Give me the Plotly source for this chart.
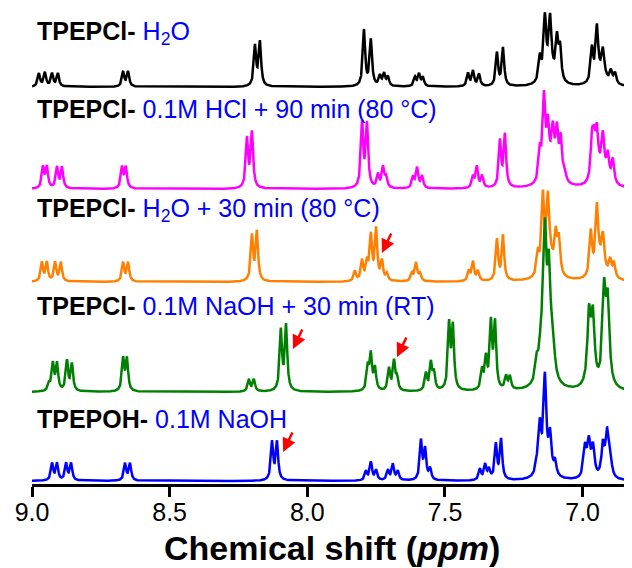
import numpy as np
import plotly.graph_objects as go

# ---------------- data: peak tables ----------------
# ppm position, intensity (apparent height), half width (ppm)
black_ppm = [8.975, 8.953, 8.927, 8.906, 8.669, 8.651, 8.190, 8.172, 7.794, 7.769,
             7.736, 7.721, 7.707, 7.609, 7.594, 7.580, 7.416, 7.398, 7.376, 7.311, 7.289,
             7.155, 7.137, 7.118, 7.093, 7.082, 7.118,
             6.966, 6.948, 6.926, 6.897, 6.882, 6.930]
black_int = [13, 14, 13, 13, 15, 15, 40, 44, 56, 46,
             10, 12, 9, 9, 12, 9, 13, 15, 12, 33, 38,
             24, 60, 52, 40, 32, 14,
             34, 52, 24, 12, 11, 12]
black_hw = [0.005] * 21 + [0.0055] * 5 + [0.02] + [0.0055] * 5 + [0.02]

mag_ppm = [8.960, 8.946, 8.909, 8.891, 8.673, 8.659, 8.219, 8.201, 7.801, 7.783,
           7.743, 7.725, 7.714, 7.616, 7.601, 7.583, 7.398, 7.384, 7.365, 7.300, 7.282,
           7.155, 7.140, 7.126, 7.108, 7.093, 7.079, 7.064, 7.110,
           6.966, 6.958, 6.948, 6.926, 6.908, 6.890, 6.930]
mag_int = [21, 21, 21, 21, 21, 21, 49, 55, 64, 63,
           13, 20, 11, 11, 20, 12, 11, 21, 12, 46, 52,
           30, 80, 45, 35, 42, 40, 8, 20,
           40, 34, 42, 34, 24, 24, 18]
mag_hw = [0.005] * 21 + [0.0055] * 7 + [0.022] + [0.0055] * 6 + [0.02]

ora_ppm = [8.964, 8.946, 8.916, 8.895, 8.669, 8.651, 8.201, 8.183,
           7.827, 7.801, 7.783, 7.769, 7.750, 7.729, 7.711,
           7.620, 7.605, 7.591, 7.413, 7.398, 7.380, 7.311, 7.289,
           7.162, 7.144, 7.126, 7.097, 7.086, 7.120,
           6.970, 6.948, 6.926, 6.900, 6.886, 6.935]
ora_int = [19, 19, 19, 19, 19, 19, 45, 49,
           10, 20, 17, 44, 51, 19, 7,
           8, 18, 8, 10, 19, 10, 41, 45,
           22, 75, 62, 36, 34, 22,
           44, 62, 30, 16, 15, 18]
ora_hw = [0.005] * 23 + [0.0055] * 5 + [0.02] + [0.0055] * 5 + [0.02]

grn_ppm = [8.938, 8.924, 8.909, 8.873, 8.855, 8.669, 8.655, 8.212, 8.194, 8.096, 8.077,
           7.780, 7.769, 7.754, 7.703, 7.685, 7.674, 7.569, 7.551, 7.540,
           7.485, 7.471, 7.365, 7.351, 7.333, 7.318, 7.278, 7.264,
           7.166, 7.151, 7.137, 7.122, 7.108, 7.130,
           6.977, 6.962, 6.922, 6.908, 6.970, 6.915]
grn_int = [7, 27, 27, 30, 27, 32, 32, 12, 12, 60, 65,
           23, 35, 22, 22, 29, 12, 17, 27, 17,
           65, 62, 19, 30, 65, 65, 13, 13,
           20, 30, 125, 88, 35, 30,
           60, 58, 80, 68, 20, 24]
grn_hw = [0.005] * 28 + [0.0065] * 5 + [0.02] + [0.0065] * 4 + [0.012, 0.012]

blu_ppm = [8.927, 8.909, 8.876, 8.858, 8.662, 8.644, 8.128, 8.110,
           7.787, 7.769, 7.750, 7.707, 7.689, 7.671, 7.587, 7.572, 7.554,
           7.373, 7.354, 7.340, 7.315, 7.296,
           7.166, 7.155, 7.137, 7.118, 7.100, 7.135,
           6.991, 6.977, 6.962, 6.926, 6.911, 6.900]
blu_int = [17, 17, 17, 17, 17, 17, 38, 38,
           9, 18, 10, 10, 16, 9, 39, 30, 11,
           11, 15, 10, 35, 40,
           10, 45, 86, 35, 14, 16,
           30, 34, 30, 32, 42, 20]
blu_hw = [0.005] * 22 + [0.0055] * 5 + [0.02] + [0.0065] * 6

labels_bold = ["TPEPCl-", "TPEPCl-", "TPEPCl-", "TPEPCl-", "TPEPOH-"]
labels_cond = ["H<sub>2</sub>O", "0.1M HCl + 90 min (80 °C)", "H<sub>2</sub>O + 30 min (80 °C)",
               "0.1M NaOH + 30 min (RT)", "0.1M NaOH"]
tick_vals = [9.0, 8.5, 8.0, 7.5, 7.0]
tick_text = ["9.0", "8.5", "8.0", "7.5", "7.0"]
x_title = "<b>Chemical shift (<i>ppm</i>)</b>"
# arrows pointing at new peaks (ppm)
arrow_ppm = [7.729, 8.052, 7.674, 8.088]

# ---------------- layout constants ----------------
# (the html page adds an 8 px body margin, so the figure is 624 x 560)
offsets = [397, 295, 202, 92, 3]          # vertical stacking offsets
label_y = [451, 375, 274, 178, 65]
arrow_y = [231, 135, 127, 32]
colors = ["#000000", "#FF00FF", "#FF8000", "#008000", "#0000FF"]

x = np.arange(6.80, 9.0001, 0.0004)


def spectrum(ppm, inten, hw):
    y = np.zeros_like(x)
    for p, h, w in zip(ppm, inten, hw):
        y += h / (1.0 + ((x - p) / w) ** 2)
    return y


tables = [(black_ppm, black_int, black_hw), (mag_ppm, mag_int, mag_hw),
          (ora_ppm, ora_int, ora_hw), (grn_ppm, grn_int, grn_hw),
          (blu_ppm, blu_int, blu_hw)]

fig = go.Figure()
for (pp, ii, ww), off, col in zip(tables, offsets, colors):
    fig.add_trace(go.Scatter(x=x, y=spectrum(pp, ii, ww) + off, mode="lines",
                             line=dict(color=col, width=2.5), showlegend=False,
                             hoverinfo="skip"))

font_family = "Arial, Liberation Sans, sans-serif"
for b, c, ly in zip(labels_bold, labels_cond, label_y):
    fig.add_annotation(xref="paper", yref="y", x=0.005, y=ly, xanchor="left", yanchor="middle",
                       showarrow=False,
                       text=f"<b>{b}</b> <span style='color:#0000FF'>{c}</span>",
                       font=dict(family=font_family, size=25, color="black"))

for ap, ay_ in zip(arrow_ppm, arrow_y):
    fig.add_annotation(x=ap, y=ay_, xref="x", yref="y", text="", showarrow=True,
                       ax=10, ay=-21, arrowhead=2, arrowsize=1.1, arrowwidth=2.5,
                       arrowcolor="#FF0000")

fig.add_annotation(xref="paper", yref="paper", x=0.5, y=-64 / 476,
                   xanchor="center", yanchor="middle", showarrow=False, text=x_title,
                   font=dict(family=font_family, size=34, color="black"))

fig.update_layout(
    width=624, height=560,
    margin=dict(l=24, r=0, t=0, b=84, autoexpand=False),
    paper_bgcolor="white", plot_bgcolor="white",
    xaxis=dict(range=[9.0, 6.8206], showline=True, linewidth=2.5, linecolor="black",
               ticks="outside", ticklen=10, tickwidth=2.5, tickcolor="black",
               tickvals=tick_vals, ticktext=tick_text, automargin=False,
               ticklabelstandoff=-6,
               tickfont=dict(family=font_family, size=25, color="black"),
               showgrid=False, zeroline=False),
    yaxis=dict(range=[0, 476], visible=False, showgrid=False, zeroline=False),
)

fig.write_html("out.html")
